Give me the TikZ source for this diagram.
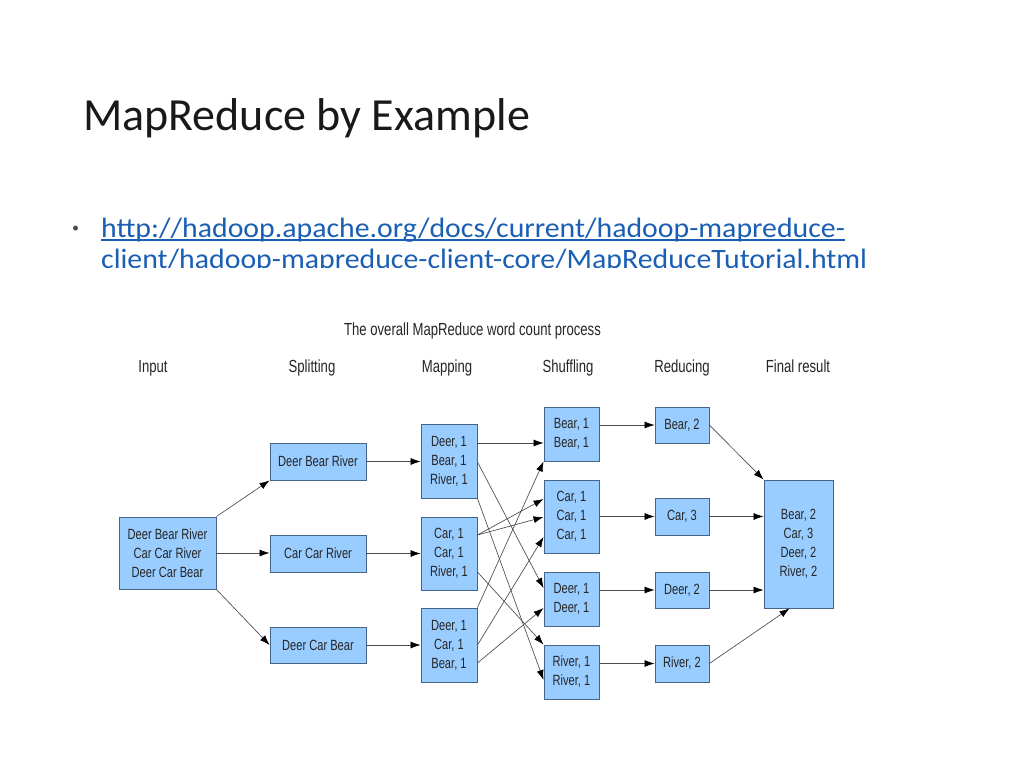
\documentclass[tikz,border=0pt]{standalone}
\usepackage{fontspec}
\usetikzlibrary{arrows.meta}
\newfontfamily\slidefont{Carlito}
\newfontfamily\urlfont[FakeStretch=1.065]{Carlito}
\newfontfamily\diagfont[FakeStretch=0.75]{Liberation Sans}
\definecolor{boxfill}{HTML}{99CCFF}
\definecolor{boxline}{HTML}{46648A}
\definecolor{urlcol}{HTML}{1A5FB4}
\definecolor{linecol}{HTML}{4A4A4A}
\begin{document}
\begin{tikzpicture}[x=1pt,y=-1pt,
  box/.style={draw=boxline, line width=0.9pt, fill=boxfill, inner sep=0pt, align=center,
    font=\diagfont\fontsize{14.8}{19}\selectfont, text=black!85},
  hdr/.style={anchor=base, inner sep=0pt, font=\diagfont\fontsize{17.5}{19}\selectfont, text=black!85},
  conn/.style={draw=linecol, line width=0.65pt, -{Latex[length=10pt,width=7pt,color=black]}}]
\useasboundingbox (0,0) rectangle (1024,768);
\fill[white] (0,0) rectangle (1024,768);

% slide title and link
\node[anchor=base west, inner sep=0pt, font=\slidefont\fontsize{46}{50}\selectfont, text=black!90] (title) at (83,130) {MapReduce by Example};
\node[anchor=base west, inner sep=0pt, font=\slidefont\fontsize{14}{16}\selectfont, text=black!70] (bul) at (72,232) {•};
\node[anchor=base west, inner sep=0pt, font=\urlfont\fontsize{28}{31}\selectfont, text=urlcol] (u1) at (101,237) {http://hadoop.apache.org/docs/current/hadoop-mapreduce-};
\draw[urlcol, line width=1.1pt] ([yshift=-3pt]u1.base west) -- ([yshift=-3pt]u1.base east);
\begin{scope}
\clip (90,240) rectangle (900,267);
\node[anchor=base west, inner sep=0pt, font=\urlfont\fontsize{28}{31}\selectfont, text=urlcol] (u2) at (101,268) {client/hadoop-mapreduce-client-core/MapReduceTutorial.html};
\end{scope}

% diagram headings
\node[hdr] (dtitle) at (472.5,335) {The overall MapReduce word count process};
\node[hdr] (hin) at (153,372) {Input};
\node[hdr] (hsp) at (312,372) {Splitting};
\node[hdr] (hma) at (447,372) {Mapping};
\node[hdr] (hsh) at (568,372) {Shuffling};
\node[hdr] (hre) at (682,372) {Reducing};
\node[hdr] (hfi) at (798,372) {Final result};

% boxes
\node[box, minimum width=97pt, minimum height=72pt] (in) at (167.5,553) {Deer Bear River\\Car Car River\\Deer Car Bear};
\node[box, minimum width=96pt, minimum height=37pt] (s1) at (318,461.5) {Deer Bear River};
\node[box, minimum width=96pt, minimum height=37pt] (s2) at (318,553.5) {Car Car River};
\node[box, minimum width=96pt, minimum height=36pt] (s3) at (318,645) {Deer Car Bear};
\node[box, minimum width=56pt, minimum height=74pt] (m1) at (449,461) {Deer, 1\\Bear, 1\\River, 1};
\node[box, minimum width=56pt, minimum height=73pt] (m2) at (449,553.5) {Car, 1\\Car, 1\\River, 1};
\node[box, minimum width=56pt, minimum height=74pt] (m3) at (449,645) {Deer, 1\\Car, 1\\Bear, 1};
\node[box, minimum width=55pt, minimum height=54pt] (sh1) at (571.5,434) {Bear, 1\\Bear, 1};
\node[box, minimum width=55pt, minimum height=73pt] (sh2) at (571.5,516.5) {Car, 1\\Car, 1\\Car, 1};
\node[box, minimum width=55pt, minimum height=54pt] (sh3) at (571.5,599) {Deer, 1\\Deer, 1};
\node[box, minimum width=55pt, minimum height=54pt] (sh4) at (571.5,672) {River, 1\\River, 1};
\node[box, minimum width=54pt, minimum height=36pt] (r1) at (682,425) {Bear, 2};
\node[box, minimum width=54pt, minimum height=37pt] (r2) at (682,516.5) {Car, 3};
\node[box, minimum width=54pt, minimum height=36pt] (r3) at (682,590) {Deer, 2};
\node[box, minimum width=54pt, minimum height=37pt] (r4) at (682,663.5) {River, 2};
\node[box, minimum width=69pt, minimum height=128pt] (f) at (798.5,544) {Bear, 2\\Car, 3\\Deer, 2\\River, 2};

% input -> splitting
\draw[conn] (in.north east) -- (s1.south west);
\draw[conn] (in.east) -- (s2.west |- in.east);
\draw[conn] (in.south east) -- (s3.west);
% splitting -> mapping
\draw[conn] (s1.east) -- (m1.west |- s1.east);
\draw[conn] (s2.east) -- (m2.west |- s2.east);
\draw[conn] (s3.east) -- (m3.west |- s3.east);
% mapping -> shuffling
\draw[conn] (m1.east |- 0,443) -- (sh1.west |- 0,443);
\draw[conn] (m1.east |- 0,462) -- (sh3.west |- 0,588);
\draw[conn] (m1.south east) -- (sh4.west |- 0,680);
\draw[conn] (m2.east |- 0,535) -- (sh2.west |- 0,499);
\draw[conn] (m2.east |- 0,535) -- (sh2.west |- 0,517);
\draw[conn] (m2.east |- 0,572) -- (sh4.north west);
\draw[conn] (m3.north east) -- (sh1.south west);
\draw[conn] (m3.east |- 0,645) -- (sh2.west |- 0,537);
\draw[conn] (m3.east |- 0,663) -- (sh3.west |- 0,608);
% shuffling -> reducing
\draw[conn] (sh1.east |- r1.west) -- (r1.west);
\draw[conn] (sh2.east |- r2.west) -- (r2.west);
\draw[conn] (sh3.east |- r3.west) -- (r3.west);
\draw[conn] (sh4.east |- r4.west) -- (r4.west);
% reducing -> final
\draw[conn] (r1.east) -- (f.north west);
\draw[conn] (r2.east) -- (f.west |- r2.east);
\draw[conn] (r3.east) -- (f.west |- r3.east);
\draw[conn] (r4.east) -- ([xshift=26pt]f.south west);
\end{tikzpicture}
\end{document}
